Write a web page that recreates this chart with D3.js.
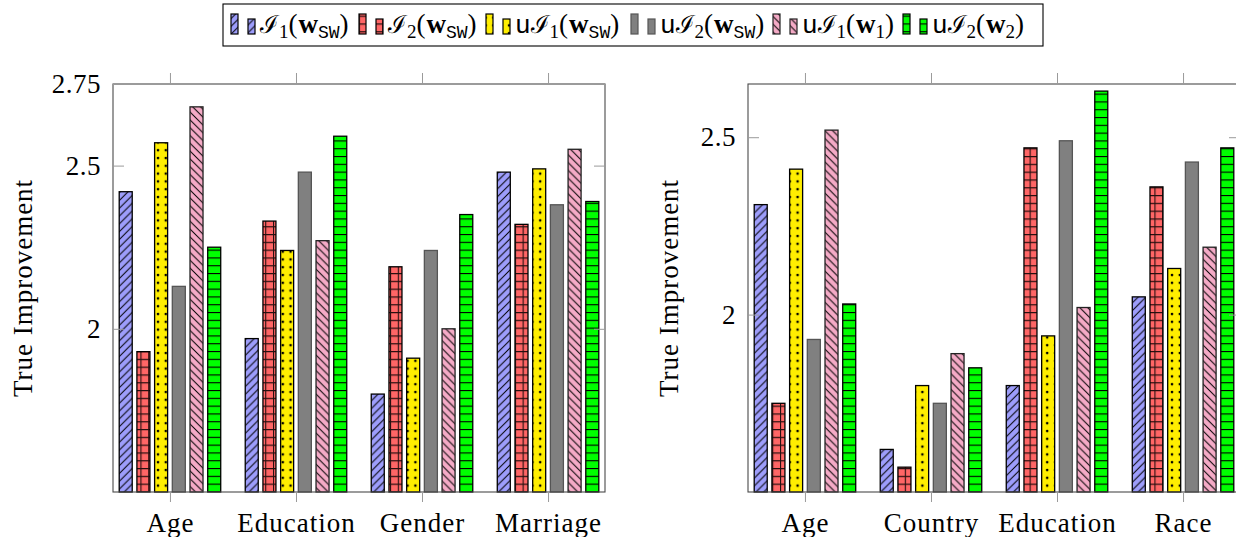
<!DOCTYPE html>
<html>
<head>
<meta charset="utf-8">
<script src="https://cdn.jsdelivr.net/npm/d3@7"></script>
<style>
  body { margin: 0; background: #fff; }
  svg { display: block; }
</style>
</head>
<body>
<div id="chart"></div>
<script>
// ---- data ----
const seriesKeys = ["I1_sw", "I2_sw", "uI1_sw", "uI2_sw", "uI1_w1", "uI2_w2"];

const leftCategories = ["Age", "Education", "Gender", "Marriage"];
const leftI1sw  = [2.42, 1.97, 1.80, 2.48];
const leftI2sw  = [1.93, 2.33, 2.19, 2.32];
const leftuI1sw = [2.57, 2.24, 1.91, 2.49];
const leftuI2sw = [2.13, 2.48, 2.24, 2.38];
const leftuI1w1 = [2.68, 2.27, 2.00, 2.55];
const leftuI2w2 = [2.25, 2.59, 2.35, 2.39];
const leftTicks = [2, 2.5, 2.75];

const rightCategories = ["Age", "Country", "Education", "Race"];
const rightI1sw  = [2.31, 1.62, 1.80, 2.05];
const rightI2sw  = [1.75, 1.57, 2.47, 2.36];
const rightuI1sw = [2.41, 1.80, 1.94, 2.13];
const rightuI2sw = [1.93, 1.75, 2.49, 2.43];
const rightuI1w1 = [2.52, 1.89, 2.02, 2.19];
const rightuI2w2 = [2.03, 1.85, 2.63, 2.47];
const rightTicks = [2, 2.5];

const yTitle = "True Improvement";

// legend labels as pieces: [text, style]
const legendLabels = [
  [["ℐ", "cal"], ["1", "sub"], ["(", ""], ["w", "bold"], ["SW", "submono"], [")", "close"]],
  [["ℐ", "cal"], ["2", "sub"], ["(", ""], ["w", "bold"], ["SW", "submono"], [")", "close"]],
  [["u", "mono"], ["ℐ", "cal"], ["1", "sub"], ["(", ""], ["w", "bold"], ["SW", "submono"], [")", "close"]],
  [["u", "mono"], ["ℐ", "cal"], ["2", "sub"], ["(", ""], ["w", "bold"], ["SW", "submono"], [")", "close"]],
  [["u", "mono"], ["ℐ", "cal"], ["1", "sub"], ["(", ""], ["w", "bold"], ["1", "sub"], [")", "close"]],
  [["u", "mono"], ["ℐ", "cal"], ["2", "sub"], ["(", ""], ["w", "bold"], ["2", "sub"], [")", "close"]]
];

// ---- styles ----
const fills = ["#9d9dfb", "#ff6666", "#ffee00", "#808080", "#f4aac6", "#00ff00"];
const patterns = ["ne", "grid", "dots", null, "nw", "hlines"];
const strokes = ["#000", "#000", "#000", "#555", "#222", "#000"];
const serif = "Liberation Serif, Times New Roman, serif";
const mono = "Liberation Mono, DejaVu Sans Mono, monospace";
const W = 1236, H = 537;

const svg = d3.select("#chart").append("svg")
  .attr("width", W).attr("height", H)
  .attr("xmlns", "http://www.w3.org/2000/svg")
  .attr("font-family", serif);

// hatch patterns
const defs = svg.append("defs");
const T = 7.8;
function pat(id, draw) {
  const p = defs.append("pattern").attr("id", id)
    .attr("patternUnits", "userSpaceOnUse")
    .attr("width", T).attr("height", T);
  draw(p);
}
pat("ne", p => p.append("path")
  .attr("d", `M0,${T} L${T},0 M-1,1 L1,-1 M${T - 1},${T + 1} L${T + 1},${T - 1}`)
  .attr("stroke", "#000").attr("stroke-width", 1));
pat("nw", p => p.append("path")
  .attr("d", `M0,0 L${T},${T} M-1,${T - 1} L1,${T + 1} M${T - 1},-1 L${T + 1},1`)
  .attr("stroke", "#000").attr("stroke-width", 1));
pat("grid", p => p.append("path")
  .attr("d", `M0,0.5 H${T} M0.5,0 V${T}`)
  .attr("stroke", "#000").attr("stroke-width", 1.2).attr("stroke-opacity", 0.85));
pat("dots", p => p.append("circle")
  .attr("cx", 2).attr("cy", 2).attr("r", 1.3).attr("fill", "#000"));
pat("hlines", p => p.append("path")
  .attr("d", `M0,0.5 H${T}`)
  .attr("stroke", "#000").attr("stroke-width", 1.2));

function drawPanel(box, categories, seriesValues, yDomain, yTicks, titleX) {
  const g = svg.append("g");

  const x0 = d3.scalePoint().domain(categories)
    .range([box.left, box.right]).padding(0.452);
  const x1 = d3.scaleBand().domain(seriesKeys)
    .range([-53.1, 53.1]).paddingInner(0.265).paddingOuter(0.1325);
  const y = d3.scaleLinear().domain(yDomain).range([box.bottom, box.top]);

  // bars
  seriesKeys.forEach((key, s) => {
    const vals = seriesValues[s];
    const bars = g.append("g");
    categories.forEach((c, i) => {
      const bx = x0(c) + x1(key);
      const by = y(vals[i]);
      const bh = y(yDomain[0]) - by;
      bars.append("rect")
        .attr("x", bx).attr("y", by)
        .attr("width", x1.bandwidth()).attr("height", bh)
        .attr("fill", fills[s]);
      bars.append("rect")
        .attr("x", bx).attr("y", by)
        .attr("width", x1.bandwidth()).attr("height", bh)
        .attr("fill", patterns[s] ? `url(#${patterns[s]})` : "none")
        .attr("stroke", strokes[s]).attr("stroke-width", 1.3);
    });
  });

  // frame
  g.append("rect")
    .attr("x", box.left).attr("y", box.top)
    .attr("width", box.right - box.left).attr("height", box.bottom - box.top)
    .attr("fill", "none").attr("stroke", "#4a4a4a").attr("stroke-width", 1.1);

  const tickColor = "#9a9a9a";

  // bottom axis with labels
  const xb = g.append("g").attr("transform", `translate(0,${box.bottom})`)
    .call(d3.axisBottom(x0).tickSizeInner(10).tickSizeOuter(0).tickPadding(11));
  xb.attr("font-family", serif).attr("font-size", 27);
  xb.select(".domain").remove();
  xb.selectAll("line").attr("stroke", tickColor);
  xb.selectAll("text").attr("letter-spacing", 1).attr("fill", "#000");

  // top ticks
  const xt = g.append("g").attr("transform", `translate(0,${box.top})`)
    .call(d3.axisTop(x0).tickSizeInner(11).tickSizeOuter(0).tickFormat(""));
  xt.select(".domain").remove();
  xt.selectAll("line").attr("stroke", tickColor);

  // left axis (ticks inside)
  const yl = g.append("g").attr("transform", `translate(${box.left},0)`)
    .call(d3.axisLeft(y).tickValues(yTicks).tickSizeInner(-11).tickSizeOuter(0)
      .tickPadding(12).tickFormat(d => String(d)));
  yl.attr("font-family", serif).attr("font-size", 27);
  yl.select(".domain").remove();
  yl.selectAll("line").attr("stroke", tickColor);
  yl.selectAll("text").attr("letter-spacing", 0.5).attr("fill", "#000");

  // right ticks (inside)
  const yr = g.append("g").attr("transform", `translate(${box.right},0)`)
    .call(d3.axisRight(y).tickValues(yTicks).tickSizeInner(-11).tickSizeOuter(0).tickFormat(""));
  yr.select(".domain").remove();
  yr.selectAll("line").attr("stroke", tickColor);

  // y title
  g.append("text")
    .attr("transform", `translate(${titleX},${(box.top + box.bottom) / 2}) rotate(-90)`)
    .attr("text-anchor", "middle")
    .attr("font-size", 27).attr("letter-spacing", 1)
    .text(yTitle);
}

drawPanel({ left: 113, right: 605, top: 84, bottom: 492 }, leftCategories,
  [leftI1sw, leftI2sw, leftuI1sw, leftuI2sw, leftuI1w1, leftuI2w2],
  [1.5, 2.75], leftTicks, 32);

drawPanel({ left: 748, right: 1240, top: 84, bottom: 492 }, rightCategories,
  [rightI1sw, rightI2sw, rightuI1sw, rightuI2sw, rightuI1w1, rightuI2w2],
  [1.5, 2.65], rightTicks, 678);

// ---- legend ----
const lg = svg.append("g");
lg.append("rect").attr("x", 223).attr("y", 4).attr("width", 820).attr("height", 42)
  .attr("fill", "#fff").attr("stroke", "#000").attr("stroke-width", 1.1);

const legendX = [231, 359, 486, 631, 773, 903];
const iconBase = 34;
legendLabels.forEach((parts, s) => {
  const ex = legendX[s];
  [[0, 20], [17, 15]].forEach(([dx, h]) => {
    lg.append("rect").attr("x", ex + dx).attr("y", iconBase - h)
      .attr("width", 7).attr("height", h).attr("fill", fills[s]);
    lg.append("rect").attr("x", ex + dx).attr("y", iconBase - h)
      .attr("width", 7).attr("height", h)
      .attr("fill", patterns[s] ? `url(#${patterns[s]})` : "none")
      .attr("stroke", strokes[s]).attr("stroke-width", 1.2);
  });
  const t = lg.append("text").attr("x", ex + 29).attr("y", 33)
    .attr("font-size", 27).attr("fill", "#000");
  let shifted = false;
  parts.forEach(([txt, style]) => {
    const ts = t.append("tspan").text(txt);
    const isSub = style === "sub" || style === "submono";
    if (isSub && !shifted) { ts.attr("dy", 5); shifted = true; }
    else if (!isSub && shifted) { ts.attr("dy", -5); shifted = false; }
    if (isSub) ts.attr("font-size", 19);
    if (style === "submono") ts.attr("font-family", mono).attr("font-size", 18);
    if (style === "mono") ts.attr("font-family", mono).attr("font-size", 26);
    if (style === "bold") ts.attr("font-weight", "bold").attr("dx", 1);
    if (style === "cal") ts.attr("font-size", 25);
  });
});
</script>
</body>
</html>
